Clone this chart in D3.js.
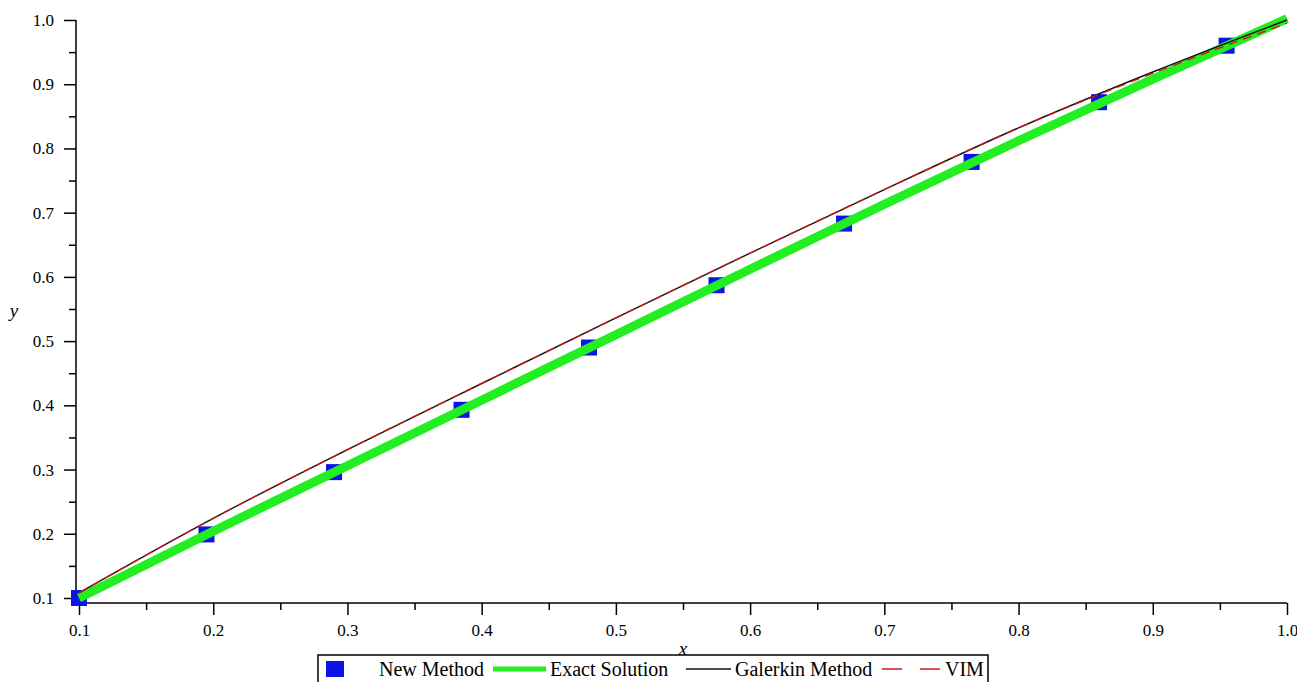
<!DOCTYPE html>
<html>
<head>
<meta charset="utf-8">
<script src="https://cdn.jsdelivr.net/npm/d3@7"></script>
<style>
  body { margin: 0; background: #fff; }
  svg text { font-family: "Liberation Serif", "Times New Roman", serif !important; }
</style>
</head>
<body>
<div class="canvas"></div>
<script>
// values
const newX = [0.1, 0.195, 0.29, 0.385, 0.48, 0.575, 0.67, 0.765, 0.86, 0.955];
const newY = [0.100, 0.199, 0.296, 0.393, 0.490, 0.587, 0.683, 0.779, 0.872, 0.960];

const gridX = [0.1, 0.2, 0.3, 0.4, 0.5, 0.6, 0.7, 0.8, 0.9, 1.0];
const exactY = [0.100, 0.204, 0.306, 0.408, 0.510, 0.612, 0.713, 0.812, 0.908, 1.002];
const galerkinY = [0.108, 0.224, 0.331, 0.434, 0.536, 0.637, 0.736, 0.832, 0.919, 1.000];
const vimY = [0.108, 0.224, 0.331, 0.434, 0.536, 0.637, 0.736, 0.832, 0.917, 0.995];

const majorTicks = [0.1, 0.2, 0.3, 0.4, 0.5, 0.6, 0.7, 0.8, 0.9, 1.0];
const minorTicks = [0.15, 0.25, 0.35, 0.45, 0.55, 0.65, 0.75, 0.85, 0.95];

const legendNames = ['New Method', 'Exact Solution', 'Galerkin Method', 'VIM'];

const width = 1297, height = 682;
const serif = '"Liberation Serif", "Times New Roman", serif';

const svg = d3.select('.canvas')
  .append('svg')
   .attr('width', width)
   .attr('height', height);

// scales
const x = d3.scaleLinear().domain([0.1, 1.0]).range([79, 1287]);
const y = d3.scaleLinear().domain([0.1, 1.0]).range([598, 20]);

const axisX0 = 76;   // left axis line
const axisY0 = 603;  // bottom axis line

// axis lines
svg.append('line')
  .attr('x1', axisX0).attr('x2', axisX0)
  .attr('y1', y(1.0)).attr('y2', axisY0)
  .attr('stroke', '#000').attr('stroke-width', 1.5);
svg.append('line')
  .attr('x1', axisX0).attr('x2', x(1.0))
  .attr('y1', axisY0).attr('y2', axisY0)
  .attr('stroke', '#000').attr('stroke-width', 1.5);

// y axis ticks
const yAxis = svg.append('g')
  .attr('transform', `translate(${axisX0},0)`)
  .call(d3.axisLeft(y).tickValues(majorTicks).tickSize(12).tickPadding(10)
    .tickFormat(d3.format('.1f')));
const yMinor = svg.append('g')
  .attr('transform', `translate(${axisX0},0)`)
  .call(d3.axisLeft(y).tickValues(minorTicks).tickSize(7).tickFormat(''));

// x axis ticks
const xAxis = svg.append('g')
  .attr('transform', `translate(0,${axisY0})`)
  .call(d3.axisBottom(x).tickValues(majorTicks).tickSize(12).tickPadding(9)
    .tickFormat(d3.format('.1f')));
const xMinor = svg.append('g')
  .attr('transform', `translate(0,${axisY0})`)
  .call(d3.axisBottom(x).tickValues(minorTicks).tickSize(7).tickFormat(''));

[yAxis, yMinor, xAxis, xMinor].forEach(g => {
  g.attr('font-family', serif);
  g.select('.domain').remove();
  g.selectAll('line').attr('stroke', '#000').attr('stroke-width', 1.5);
  g.selectAll('text')
    .style('font-family', serif)
    .attr('font-size', '17px')
    .attr('fill', '#000');
});

// axis titles
svg.append('text')
  .attr('x', 683).attr('y', 655)
  .attr('text-anchor', 'middle')
  .attr('font-size', '19px')
  .attr('font-style', 'italic')
  .text('x');
svg.append('text')
  .attr('x', 14).attr('y', 317)
  .attr('text-anchor', 'middle')
  .attr('font-size', '19px')
  .attr('font-style', 'italic')
  .text('y');

// data
const newData = newX.map((d, i) => ({ x: d, y: newY[i] }));
const exactData = gridX.map((d, i) => ({ x: d, y: exactY[i] }));
const galerkinData = gridX.map((d, i) => ({ x: d, y: galerkinY[i] }));
const vimData = gridX.map((d, i) => ({ x: d, y: vimY[i] }));

const line = d3.line()
  .x(d => x(d.x))
  .y(d => y(d.y))
  .curve(d3.curveMonotoneX);

const plot = svg.append('g');

// blue square markers (behind the green curve)
plot.selectAll('rect.marker')
  .data(newData)
  .enter().append('rect')
   .attr('class', 'marker')
   .attr('x', d => x(d.x) - 8)
   .attr('y', d => y(d.y) - 8)
   .attr('width', 16)
   .attr('height', 16)
   .attr('fill', '#0a14e6');

plot.append('path')
  .datum(exactData)
  .attr('fill', 'none')
  .attr('stroke', '#22ee22')
  .attr('stroke-width', 9)
  .attr('d', line);

plot.append('path')
  .datum(galerkinData)
  .attr('fill', 'none')
  .attr('stroke', '#111')
  .attr('stroke-width', 1.4)
  .attr('d', line);

plot.append('path')
  .datum(vimData)
  .attr('fill', 'none')
  .attr('stroke', '#d01818')
  .attr('stroke-width', 1.4)
  .attr('stroke-dasharray', '9,6')
  .attr('d', line);

// legend
const legend = svg.append('g');
legend.append('rect')
  .attr('x', 318).attr('y', 655)
  .attr('width', 670).attr('height', 40)
  .attr('fill', '#fff')
  .attr('stroke', '#000')
  .attr('stroke-width', 1.5);

const ly = 669;
legend.append('rect')
  .attr('x', 326).attr('y', ly - 8)
  .attr('width', 18).attr('height', 16)
  .attr('fill', '#0a14e6');
legend.append('line')
  .attr('x1', 493).attr('x2', 546).attr('y1', ly).attr('y2', ly)
  .attr('stroke', '#22ee22').attr('stroke-width', 5);
legend.append('line')
  .attr('x1', 686).attr('x2', 731).attr('y1', ly).attr('y2', ly)
  .attr('stroke', '#111').attr('stroke-width', 1.4);
legend.append('line')
  .attr('x1', 882).attr('x2', 941).attr('y1', ly).attr('y2', ly)
  .attr('stroke', '#d01818').attr('stroke-width', 1.4)
  .attr('stroke-dasharray', '20,18');

const textX = [379, 550, 735, 945];
legend.selectAll('text.legend')
  .data(legendNames)
  .enter().append('text')
   .attr('class', 'legend')
   .attr('x', (d, i) => textX[i])
   .attr('y', ly + 7)
   .attr('font-size', '20px')
   .text(d => d);
</script>
</body>
</html>
